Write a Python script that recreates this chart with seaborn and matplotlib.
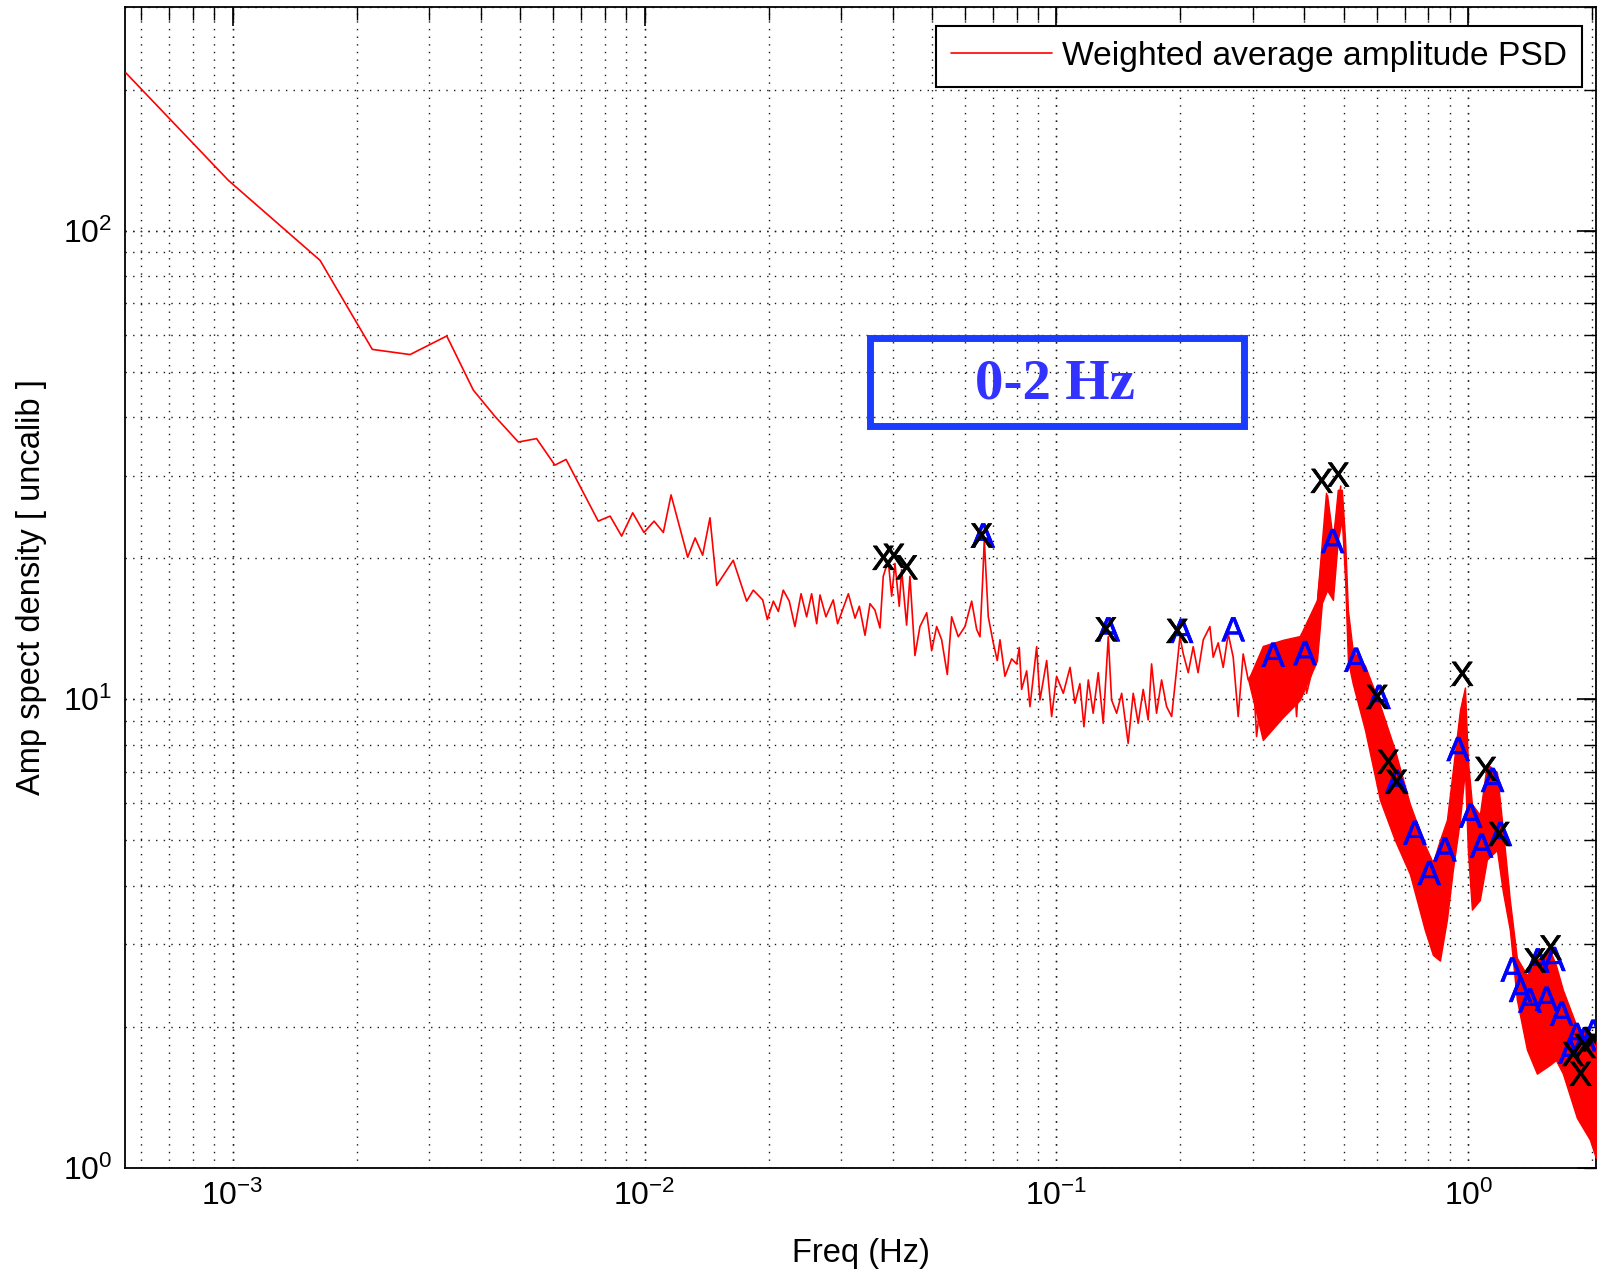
import numpy as np
import pandas as pd
import matplotlib
matplotlib.use("Agg")
import matplotlib.pyplot as plt
import matplotlib.patheffects as pe
import seaborn as sns
from matplotlib.ticker import LogLocator, FixedLocator, LogFormatterSciNotation, NullFormatter
from matplotlib.patches import Rectangle
from matplotlib.lines import Line2D

# Weighted average amplitude spectrum: resolved trace (Hz, uncalibrated amplitude)
freq_trace = [
    5.51e-4, 9.77e-4, 1.631e-3, 2.184e-3, 2.697e-3, 3.311e-3, 3.84e-3, 4.34e-3,
    4.94e-3, 5.47e-3, 6.06e-3, 6.45e-3, 7.72e-3, 8.25e-3, 8.80e-3, 9.36e-3,
    9.97e-3, 1.055e-2, 1.111e-2, 1.160e-2, 1.273e-2, 1.327e-2, 1.384e-2, 1.442e-2,
    1.497e-2, 1.642e-2, 1.770e-2, 1.837e-2, 1.936e-2, 1.987e-2, 2.055e-2, 2.113e-2,
    2.172e-2, 2.246e-2, 2.318e-2, 2.399e-2, 2.475e-2, 2.545e-2, 2.618e-2, 2.667e-2,
    2.757e-2, 2.872e-2, 2.943e-2, 3.125e-2, 3.244e-2, 3.323e-2, 3.430e-2, 3.527e-2,
    3.626e-2, 3.729e-2, 3.798e-2, 3.905e-2, 3.981e-2, 4.055e-2, 4.153e-2, 4.209e-2,
    4.328e-2, 4.409e-2, 4.534e-2, 4.663e-2, 4.842e-2, 4.979e-2, 5.119e-2, 5.264e-2,
    5.433e-2, 5.567e-2, 5.777e-2, 5.997e-2, 6.226e-2, 6.402e-2, 6.521e-2, 6.621e-2,
    6.681e-2, 6.832e-2, 7.025e-2, 7.184e-2, 7.294e-2, 7.499e-2, 7.785e-2, 8.006e-2,
    8.123e-2, 8.232e-2, 8.467e-2, 8.625e-2, 8.953e-2, 9.120e-2, 9.468e-2, 9.735e-2,
    0.1001, 0.1039, 0.1079, 0.1109, 0.1140, 0.1166, 0.1195, 0.1228,
    0.1263, 0.1299, 0.1336, 0.1361, 0.1400, 0.1440, 0.1493, 0.1536,
    0.1579, 0.1624, 0.1670, 0.1702, 0.1750, 0.1800, 0.1851, 0.1904,
    0.1957, 0.1994, 0.2032, 0.2089, 0.2148, 0.2207, 0.2272, 0.2358,
    0.2402, 0.2470, 0.2540, 0.2612, 0.2686, 0.2762, 0.2840, 0.2921,
    0.3003, 0.3061, 0.3147, 0.3237, 0.3330, 0.3423, 0.3520, 0.3620,
    0.3723, 0.3828, 0.3937, 0.4048, 0.4163, 0.4240, 0.4319, 0.4402,
    0.4527, 0.4611, 0.4697, 0.4831, 0.4900,
]
amp_trace = [
    217, 128, 86.4, 55.8, 54.4, 59.6, 45.7, 40.1,
    35.4, 36.0, 31.6, 32.5, 24.0, 24.6, 22.3, 25.0,
    22.7, 24.0, 22.7, 27.3, 20.1, 22.1, 20.3, 24.4,
    17.5, 19.8, 16.2, 17.1, 16.3, 14.8, 16.2, 15.4,
    17.1, 16.2, 14.3, 16.8, 15.0, 16.8, 14.5, 16.7,
    15.0, 16.3, 14.5, 16.8, 14.9, 15.8, 13.7, 16.0,
    15.5, 14.2, 18.3, 19.8, 16.6, 19.5, 15.8, 18.9,
    14.4, 18.3, 12.4, 14.3, 15.3, 12.7, 14.3, 13.4,
    11.3, 15.0, 13.6, 14.3, 16.2, 14.1, 13.6, 18.0,
    21.9, 15.0, 13.2, 12.1, 13.4, 11.2, 12.2, 11.9,
    12.9, 10.5, 11.5, 9.65, 12.95, 9.97, 12.1, 9.19,
    11.2, 10.3, 11.7, 9.81, 10.8, 8.74, 11.0, 9.34,
    11.4, 8.89, 13.6, 9.97, 9.34, 10.3, 8.06, 10.3,
    8.89, 10.5, 9.04, 11.9, 9.34, 11.0, 9.65, 9.19,
    11.55, 13.6, 12.5, 11.4, 12.95, 11.4, 13.4, 14.3,
    12.3, 13.2, 11.7, 13.8, 12.3, 9.19, 12.5, 11.0,
    11.4, 8.33, 10.3, 8.47, 11.4, 9.97, 11.9, 12.5,
    13.4, 9.19, 13.8, 10.3, 11.4, 13.4, 16.8, 20.5,
    27.5, 17.4, 21.9, 25.8, 28.5,
]

# Dense high-frequency part of the spectrum: envelope of the fluctuations
band_freq = [
    0.2921, 0.317, 0.355, 0.390, 0.429, 0.441, 0.454, 0.469, 0.482, 0.493,
    0.502, 0.510, 0.524, 0.561, 0.610, 0.663, 0.721, 0.784, 0.820, 0.853,
    0.887, 0.917, 0.954, 0.981, 0.997, 1.020, 1.066, 1.109, 1.173, 1.213,
    1.261, 1.311, 1.387, 1.467, 1.577, 1.631, 1.696, 1.834, 1.972, 2.040,
]
band_upper = [
    11.0, 13.0, 13.4, 13.65, 16.3, 20.8, 27.3, 21.9, 28.0, 28.0,
    21.9, 15.5, 12.7, 11.8, 9.73, 7.80, 5.98, 4.89, 4.48, 5.01,
    5.53, 7.07, 9.49, 10.6, 7.43, 5.98, 5.67, 7.28, 7.00, 5.27,
    3.73, 2.81, 2.58, 2.78, 2.92, 2.71, 2.40, 2.00, 1.92, 1.86,
]
band_lower = [
    11.0, 8.19, 9.17, 9.97, 12.1, 16.05, 17.1, 16.3, 21.9, 24.1,
    17.97, 12.1, 10.8, 8.61, 6.10, 5.01, 4.24, 3.22, 2.85, 2.77,
    3.39, 4.33, 5.53, 7.07, 4.77, 3.56, 3.73, 4.55, 4.77, 3.88,
    3.22, 2.29, 1.79, 1.59, 1.66, 1.70, 1.59, 1.28, 1.15, 1.05,
]

# Peak annotations: black "X" and blue "A" picks
x_pick_freq = [
    0.0380, 0.0403, 0.0433, 0.0658, 0.1318, 0.1964, 0.4402, 0.4831, 0.6007, 0.6389,
    0.6694, 0.9660, 1.1009, 1.1879, 1.4500, 1.5830, 1.7963, 1.9178, 2.0093, 1.8723,
]
x_pick_amp = [
    19.8, 20.0, 18.9, 22.1, 13.94, 13.83, 28.9, 29.8, 10.0, 7.27,
    6.59, 11.2, 7.02, 5.10, 2.74, 2.92, 1.73, 1.80, 1.86, 1.57,
]
a_pick_freq = [
    0.0664, 0.1336, 0.2013, 0.2686, 0.3359, 0.4011, 0.4684, 0.5332, 0.607, 0.6694,
    0.7414, 0.8034, 0.8768, 0.9445, 1.0124, 1.0765, 1.1449, 1.1960, 1.2774, 1.3389,
    1.4101, 1.4746, 1.6124, 1.5480, 1.6835, 1.8306, 1.9178, 2.0093, 1.7635,
]
a_pick_amp = [
    22.1, 13.94, 13.83, 13.94, 12.3, 12.4, 21.5, 12.0, 10.0, 6.59,
    5.13, 4.21, 4.73, 7.74, 5.58, 4.82, 6.65, 5.10, 2.62, 2.37,
    2.25, 2.74, 2.76, 2.27, 2.11, 1.90, 1.86, 1.93, 1.75,
]

x_ticks = [1e-3, 1e-2, 1e-1, 1e0]
y_ticks = [1e0, 1e1, 1e2]
freq_limits = (5.48e-4, 2.04)
amp_limits = (1, 300)

legend_label = "Weighted average amplitude PSD"
range_label = "0-2 Hz"

sns.set_theme(style="white")
plt.rcParams["font.family"] = ["Liberation Sans", "DejaVu Sans"]
plt.rcParams["mathtext.fontset"] = "custom"
plt.rcParams["mathtext.rm"] = "Liberation Sans"
plt.rcParams["mathtext.it"] = "Liberation Sans:italic"
plt.rcParams["mathtext.bf"] = "Liberation Sans:bold"

fig = plt.figure(figsize=(15.98, 12.76), dpi=100)
ax = fig.add_axes([0.0782, 0.0846, 0.9205, 0.9099])

red = "#ff0000"
trace = pd.DataFrame({"Freq": freq_trace, "Amp": amp_trace})
sns.lineplot(data=trace, x="Freq", y="Amp", ax=ax, color=red, lw=1.2,
             estimator=None, sort=False, legend=False, zorder=3)
ax.fill_between(band_freq, band_lower, band_upper, facecolor=red,
                edgecolor=red, lw=1.0, zorder=3)

ax.set_xscale("log")
ax.set_yscale("log")
ax.set_xlim(*freq_limits)
ax.set_ylim(*amp_limits)

# Axis ticks, MATLAB-like boxed axes with inward ticks
ax.xaxis.set_major_locator(FixedLocator(x_ticks))
ax.yaxis.set_major_locator(FixedLocator(y_ticks))
ax.xaxis.set_major_formatter(LogFormatterSciNotation())
ax.yaxis.set_major_formatter(LogFormatterSciNotation())
ax.xaxis.remove_overlapping_locs = False
ax.yaxis.remove_overlapping_locs = False
ax.xaxis.set_minor_locator(LogLocator(base=10, subs=np.arange(1, 10), numticks=100))
ax.yaxis.set_minor_locator(LogLocator(base=10, subs=np.arange(1, 10), numticks=100))
ax.xaxis.set_minor_formatter(NullFormatter())
ax.yaxis.set_minor_formatter(NullFormatter())

ax.tick_params(which="major", direction="in", length=14, width=1.2, color="black",
               top=True, right=True, labelsize=23, labelcolor="black")
ax.tick_params(which="minor", direction="in", length=9, width=1.0, color="black",
               top=True, right=True)
ax.tick_params(axis="x", which="major", pad=9)
ax.tick_params(axis="y", which="major", pad=9)

grid_style = dict(color="#1a1a1a", linestyle=(0, (1, 4.5)), linewidth=1.0)
ax.grid(True, which="major", **grid_style)
ax.grid(True, which="minor", **grid_style)
ax.set_axisbelow(True)

for spine in ax.spines.values():
    spine.set_visible(True)
    spine.set_color("black")
    spine.set_linewidth(1.3)

# Peak picks
blue = "#0000ff"
for f, a in zip(a_pick_freq, a_pick_amp):
    ax.text(f, a, "A", color=blue, fontsize=25, ha="center", va="center",
            clip_on=True, zorder=4,
            path_effects=[pe.withStroke(linewidth=0.5, foreground=blue)])
for f, a in zip(x_pick_freq, x_pick_amp):
    ax.text(f, a, "X", color="black", fontsize=25, ha="center", va="center",
            clip_on=True, zorder=5,
            path_effects=[pe.withStroke(linewidth=0.5, foreground="black")])

ax.set_xlabel("Freq (Hz)", fontsize=23.5, color="black")
ax.set_ylabel("Amp spect density [ uncalib ]", fontsize=23.5, color="black")
ax.xaxis.set_label_coords(0.5, -0.060)
ax.yaxis.set_label_coords(-0.053, 0.5)

handle = Line2D([], [], color=red, lw=1.2)
leg = ax.legend([handle], [legend_label], loc="upper right",
                bbox_to_anchor=(0.9905, 0.984), borderaxespad=0, fontsize=24.2,
                frameon=True, fancybox=False, framealpha=1, edgecolor="black",
                handlelength=3.0, handletextpad=0.3, borderpad=0.45)
leg.get_frame().set_linewidth(1.5)
for t in leg.get_texts():
    t.set_color("black")

# Frequency-range tag
ax.add_patch(Rectangle((0.5068, 0.6395), 0.2542, 0.075, transform=ax.transAxes,
                       fill=False, edgecolor="#1a3cff", lw=5, zorder=6))
ax.text(0.632, 0.675, range_label, transform=ax.transAxes, fontsize=41,
        fontweight="bold", family=["Liberation Serif", "DejaVu Serif"],
        color="#3333ff", ha="center", va="center", zorder=6)

fig.savefig("out.png", dpi=100)
